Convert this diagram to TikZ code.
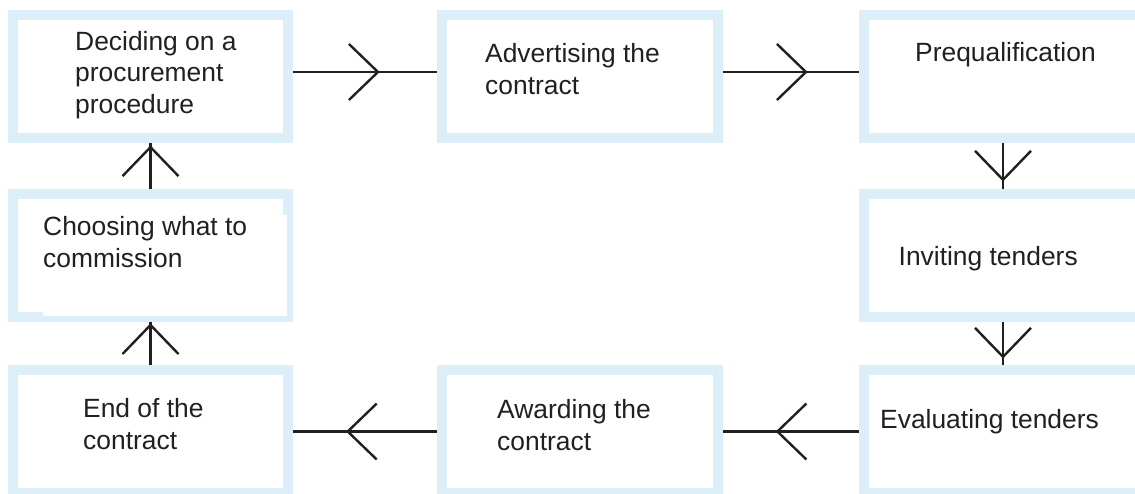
\documentclass[tikz,border=0pt]{standalone}
\usepackage{fontspec}
\setmainfont{Liberation Sans}
\usetikzlibrary{decorations.markings}
\definecolor{frame}{HTML}{DCEEF8}
\definecolor{ink}{HTML}{231F20}
\begin{document}
\begin{tikzpicture}[x=1pt,y=-1pt,
  stage/.style={draw=frame, line width=10pt, fill=white, rectangle, inner sep=0pt,
    outer sep=5pt, minimum height=123pt},
  narrow/.style={stage, minimum width=275pt},
  middle/.style={stage, minimum width=276pt},
  wide/.style={stage, minimum width=278pt},
  % base anchor sits on the baseline of the last line
  caption/.style={anchor=base west, align=left, inner sep=0pt, text=ink,
    font=\fontsize{26.4}{31.3}\selectfont},
  flow/.style={line width=2.4pt, draw=ink, postaction=decorate,
    decoration={markings, mark=at position #1 with
      {\draw[ink, line width=2.4pt] (-29pt,28pt) -- (0pt,0pt) -- (-29pt,-28pt);}}}
]
\useasboundingbox (0,0) rectangle (1135,493);
\clip (0,0) rectangle (1135,493);

% stage boxes
\node[narrow] (decide)   at (150.5,76.5)  {};
\node[middle] (advert)   at (580,76.5)    {};
\node[wide]   (prequal)  at (1003,76.5)   {};
\node[narrow] (choose)   at (150.5,255.5) {};
\node[wide]   (invite)   at (1003,255.5)  {};
\node[narrow] (finish)   at (150.5,431.5) {};
\node[middle] (award)    at (580,431.5)   {};
\node[wide]   (evaluate) at (1003,431.5)  {};

% thinner frame edges on the commissioning box
\fill[white] (283,215) rectangle (287,316);
\fill[white] (43,312) rectangle (287,316);

% captions
\node[caption] (tdecide)   at (75,113)  {Deciding on a\\procurement\\procedure};
\node[caption] (tadvert)   at (485,94)  {Advertising the\\contract};
\node[caption] (tprequal)  at (915,61)  {Prequalification};
\node[caption] (tinvite)   at (898.5,265) {Inviting tenders};
\node[caption] (tevaluate) at (880,428) {Evaluating tenders};
\node[caption] (taward)    at (497,450) {Awarding the\\contract};
\node[caption] (tfinish)   at (83,449)  {End of the\\contract};
\node[caption] (tchoose)   at (43,267)  {Choosing what to\\commission};

% connectors
\draw[flow=0.59] ([yshift=4.5pt]decide.east) -- ([yshift=4.5pt]advert.west);
\draw[flow=0.61] ([yshift=4.5pt]advert.east) -- ([yshift=4.5pt]prequal.west);
\draw[flow=0.80] (prequal.south) -- (invite.north);
\draw[flow=0.81] (invite.south) -- (evaluate.north);
\draw[flow=0.60] (evaluate.west) -- (award.east);
\draw[flow=0.62] (award.west) -- (finish.east);
\draw[flow=0.93] (finish.north) -- (choose.south);
\draw[flow=0.91] (choose.north) -- (decide.south);
\end{tikzpicture}
\end{document}
